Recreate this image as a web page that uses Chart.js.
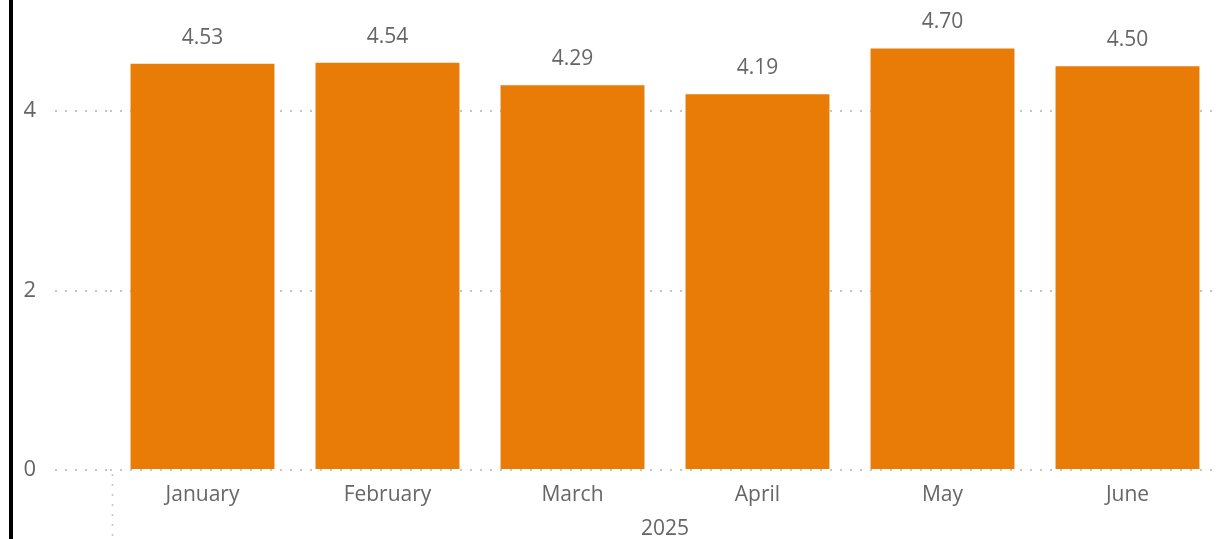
<!DOCTYPE html>
<html>
<head>
<meta charset="utf-8">
<script src="https://cdn.jsdelivr.net/npm/chart.js@4.4.1/dist/chart.umd.min.js"></script>
<style>
  html, body { margin: 0; padding: 0; background: #fff; }
  #wrap { position: relative; width: 1220px; height: 539px; }
  #edge { position: absolute; left: 9px; top: 0; width: 4px; height: 539px; background: #000; }
</style>
</head>
<body>
<div id="wrap">
  <canvas id="chart" width="1220" height="539"></canvas>
  <div id="edge"></div>
</div>
<script>
// Monthly values, 2025
const months = ["January", "February", "March", "April", "May", "June"];
const values = [4.53, 4.54, 4.29, 4.19, 4.70, 4.50];
const yearLabel = "2025";

const FONT = "'Open Sans', 'Noto Sans', sans-serif";
const TEXT = "#666666";
const DOTS = "#c4c4c4";

// value labels above each bar
const barLabels = {
    id: "barLabels",
    afterDatasetsDraw(chart) {
        const ctx = chart.ctx;
        const meta = chart.getDatasetMeta(0);
        ctx.save();
        ctx.font = "21px " + FONT;
        ctx.fillStyle = TEXT;
        ctx.textAlign = "center";
        ctx.textBaseline = "alphabetic";
        meta.data.forEach((bar, i) => {
            ctx.fillText(values[i].toFixed(2), bar.x, bar.y - 20);
        });
        ctx.restore();
    }
};

// dotted separator at the left of the year group, below the axis
const groupLine = {
    id: "groupLine",
    afterDraw(chart) {
        const ctx = chart.ctx;
        const area = chart.chartArea;
        const x = Math.round(area.left) + 2.5;
        ctx.save();
        ctx.strokeStyle = DOTS;
        ctx.lineWidth = 1.5;
        ctx.setLineDash([2, 8]);
        ctx.beginPath();
        ctx.moveTo(x, area.bottom + 4);
        ctx.lineTo(x, chart.height);
        ctx.stroke();
        ctx.restore();
    }
};

new Chart(document.getElementById("chart"), {
    type: "bar",
    data: {
        labels: months,
        datasets: [{
            data: values,
            backgroundColor: "#E97C07",
            categoryPercentage: 1,
            barPercentage: 0.778
        }]
    },
    options: {
        responsive: false,
        animation: false,
        layout: { padding: 0 },
        plugins: {
            legend: { display: false },
            tooltip: { enabled: false }
        },
        scales: {
            y: {
                min: 0,
                max: 5.24,
                afterFit: (scale) => {
                    scale.width = 110;
                    scale.paddingTop = 0;
                    scale.paddingBottom = 0;
                },
                border: { display: false, dash: [2, 8] },
                grid: {
                    color: DOTS,
                    lineWidth: 2,
                    drawTicks: true,
                    tickLength: 55,
                    tickColor: DOTS,
                    tickWidth: 2,
                    tickBorderDash: [2, 8]
                },
                ticks: {
                    stepSize: 2,
                    includeBounds: false,
                    padding: 19,
                    color: TEXT,
                    font: { family: FONT, size: 22 }
                }
            },
            x: {
                afterFit: (scale) => {
                    scale.height = 69;
                    scale.paddingLeft = 0;
                    scale.paddingRight = 0;
                },
                border: { display: false },
                grid: { display: false },
                ticks: {
                    padding: 4,
                    color: TEXT,
                    maxRotation: 0,
                    font: { family: FONT, size: 21 }
                },
                title: {
                    display: true,
                    text: yearLabel,
                    color: TEXT,
                    padding: { top: 5, bottom: -3 },
                    font: { family: FONT, size: 21 }
                }
            }
        }
    },
    plugins: [barLabels, groupLine]
});
</script>
</body>
</html>
